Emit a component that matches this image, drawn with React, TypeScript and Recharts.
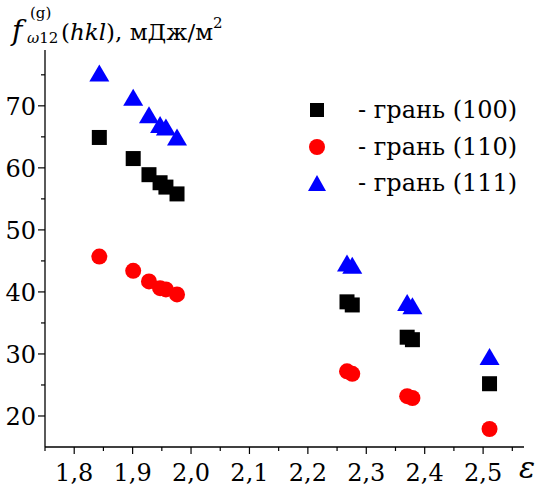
import React from 'react';
import { ScatterChart, Scatter, XAxis, YAxis, Legend } from 'recharts';

// strain ε for each measured point (same for all three faces)
const strain = [1.843, 1.901, 1.928, 1.947, 1.957, 1.976, 2.267, 2.276, 2.370, 2.379, 2.511];

// surface energy f, mJ/m^2
const face100 = [64.9, 61.5, 58.9, 57.6, 56.9, 55.8, 38.4, 37.9, 32.7, 32.3, 25.2];
const face110 = [45.7, 43.4, 41.7, 40.6, 40.4, 39.6, 27.2, 26.8, 23.2, 22.9, 17.9];
const face111 = [75.2, 71.3, 68.5, 66.9, 66.5, 64.9, 44.6, 44.2, 38.2, 37.7, 29.5];

const xTicks = [1.75, 1.8, 1.85, 1.9, 1.95, 2.0, 2.05, 2.1, 2.15, 2.2, 2.25, 2.3, 2.35, 2.4, 2.45, 2.5, 2.55];
const xMajor = [1.8, 1.9, 2.0, 2.1, 2.2, 2.3, 2.4, 2.5];
const yTicks = [20, 25, 30, 35, 40, 45, 50, 55, 60, 65, 70, 75];
const yMajor = [20, 30, 40, 50, 60, 70];

const legendNames = ['- грань (100)', '- грань (110)', '- грань (111)'];

const FONT = "'DejaVu Serif', serif";

const toPoints = (vals: number[]) => vals.map((v, i) => ({ x: strain[i], y: v }));

const isMajor = (list: number[], v: number) => list.some((m) => Math.abs(m - v) < 1e-6);

const XTick = (props: any) => {
  const { x, y, payload } = props;
  const major = isMajor(xMajor, payload.value);
  return (
    <g>
      <line x1={x} x2={x} y1={y} y2={y + (major ? 7 : 4)} stroke="#000" strokeWidth={1.2} />
      {major && (
        <text x={x} y={y + 34} textAnchor="middle" style={{ fontFamily: FONT }} fontSize={24} fill="#000">
          {payload.value.toFixed(1).replace('.', ',')}
        </text>
      )}
    </g>
  );
};

const YTick = (props: any) => {
  const { x, y, payload } = props;
  const major = isMajor(yMajor, payload.value);
  return (
    <g>
      <line x1={x - (major ? 7 : 4)} x2={x} y1={y} y2={y} stroke="#000" strokeWidth={1.2} />
      {major && (
        <text x={x - 9} y={y + 9} textAnchor="end" style={{ fontFamily: FONT }} fontSize={24} fill="#000">
          {payload.value}
        </text>
      )}
    </g>
  );
};

const Square = (p: any) => <rect x={p.cx - 7.5} y={p.cy - 7.5} width={15} height={15} fill="#000" />;
const Dot = (p: any) => <circle cx={p.cx} cy={p.cy} r={8} fill="#ff0000" />;
const Tri = (p: any) => (
  <polygon points={`${p.cx},${p.cy - 9} ${p.cx - 10},${p.cy + 8} ${p.cx + 10},${p.cy + 8}`} fill="#0000ff" />
);

const icons = [
  <rect key="s" x={2} y={2} width={14} height={14} fill="#000" />,
  <circle key="c" cx={9} cy={9} r={8} fill="#ff0000" />,
  <polygon key="t" points="9,1 0,17 18,17" fill="#0000ff" />,
];

const renderLegend = () => (
  <div style={{ fontFamily: FONT, fontSize: 24, color: '#000' }}>
    {legendNames.map((name, i) => (
      <div key={name} style={{ display: 'flex', alignItems: 'center', height: 36.5 }}>
        <svg width={18} height={18} style={{ marginRight: 32 }}>
          {icons[i]}
        </svg>
        <span>{name}</span>
      </div>
    ))}
  </div>
);

const Title = (props: any) => {
  const top = props.viewBox.y;
  return (
    <g style={{ fontFamily: FONT }} fill="#000">
      <text x={12} y={top - 10} fontSize={28} fontStyle="italic">f</text>
      <text x={30} y={top - 32} fontSize={15}>(g)</text>
      <text x={27} y={top - 7} fontSize={15}>
        <tspan fontStyle="italic">ω</tspan>12
      </text>
      <text x={61} y={top - 10} fontSize={23}>
        (<tspan fontStyle="italic">hkl</tspan>), мДж/м
        <tspan fontSize={15} dy={-12}>2</tspan>
      </text>
    </g>
  );
};

const Eps = (props: any) => {
  const { x, y, width } = props.viewBox;
  return (
    <text x={x + width + 3} y={y + 31} textAnchor="middle" style={{ fontFamily: FONT }} fontSize={30} fontStyle="italic" fill="#000">
      ε
    </text>
  );
};

export default function App() {
  return (
    <div style={{ position: 'absolute', left: 0, top: 0, background: '#fff' }}>
      <ScatterChart width={540} height={488} margin={{ top: 50, right: 16, bottom: 0, left: 0 }}>
        <XAxis
          type="number"
          dataKey="x"
          domain={[1.75, 2.57]}
          ticks={xTicks}
          interval={0}
          height={41}
          tickLine={false}
          tickSize={0}
          tickMargin={0}
          tick={<XTick />}
          axisLine={{ stroke: '#000', strokeWidth: 1.3 }}
          allowDataOverflow
          label={<Eps />}
        />
        <YAxis
          type="number"
          dataKey="y"
          domain={[15, 79]}
          ticks={yTicks}
          interval={0}
          width={45}
          tickLine={false}
          tickSize={0}
          tickMargin={0}
          tick={<YTick />}
          axisLine={{ stroke: '#000', strokeWidth: 1.3 }}
          allowDataOverflow
          label={<Title />}
        />
        <Legend
          layout="vertical"
          align="center"
          verticalAlign="middle"
          content={renderLegend}
          wrapperStyle={{ left: 308, top: 92, width: 232, height: 115 }}
        />
        <Scatter name="грань (100)" data={toPoints(face100)} shape={Square} isAnimationActive={false} />
        <Scatter name="грань (110)" data={toPoints(face110)} shape={Dot} isAnimationActive={false} />
        <Scatter name="грань (111)" data={toPoints(face111)} shape={Tri} isAnimationActive={false} />
      </ScatterChart>
    </div>
  );
}
